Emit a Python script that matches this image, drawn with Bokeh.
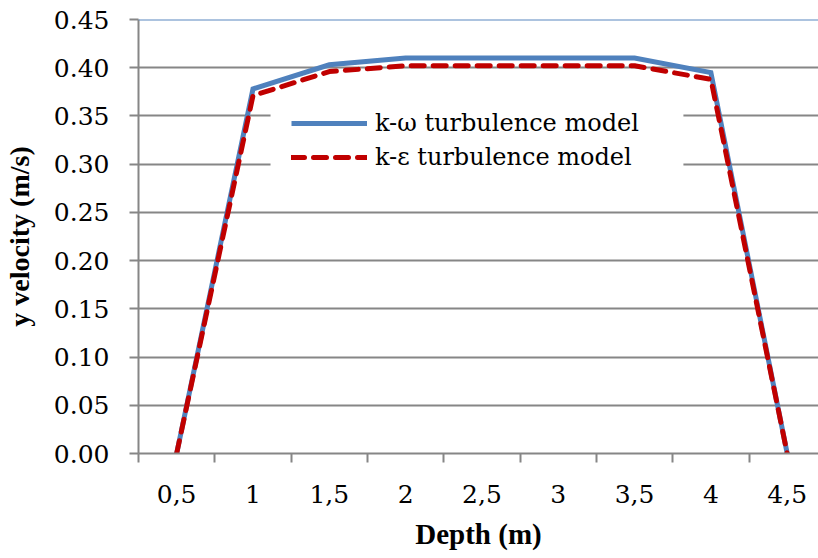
from bokeh.plotting import figure
from bokeh.models import FixedTicker, Span, Legend, LegendItem, Range1d, BoxAnnotation
from bokeh.embed import file_html
from bokeh.resources import INLINE

# Depth categories and velocity profiles for the two turbulence models
depth_labels = ["0,5", "1", "1,5", "2", "2,5", "3", "3,5", "4", "4,5"]
k_omega = [0.0, 0.378, 0.403, 0.410, 0.410, 0.410, 0.410, 0.395, 0.0]
k_epsilon = [0.0, 0.371, 0.396, 0.402, 0.402, 0.402, 0.402, 0.388, 0.0]
y_ticks = [0.00, 0.05, 0.10, 0.15, 0.20, 0.25, 0.30, 0.35, 0.40, 0.45]
y_tick_labels = ["0.00", "0.05", "0.10", "0.15", "0.20", "0.25", "0.30", "0.35", "0.40", "0.45"]

TITLE_FONT = "Liberation Serif"
TEXT_FONT = "DejaVu Serif"
GRID = "#868686"

# category centres sit half-way between the category boundaries
centers = [i + 0.5 for i in range(len(depth_labels))]
boundaries = list(range(len(depth_labels) + 1))

p = figure(width=818, height=558, output_backend="svg", toolbar_location=None,
           x_range=Range1d(0, 8.91), y_range=Range1d(0, 0.45),
           min_border_left=132, min_border_right=0, min_border_top=19,
           min_border_bottom=105)
p.outline_line_color = None

# x axis: labels at centres, tick marks at category boundaries
p.xaxis.ticker = FixedTicker(ticks=centers, minor_ticks=boundaries)
p.xaxis.major_label_overrides = {c: lab for c, lab in zip(centers, depth_labels)}
p.xaxis.major_tick_line_color = None
p.xaxis.minor_tick_line_color = GRID
p.xaxis.minor_tick_line_width = 2
p.xaxis.minor_tick_out = 9
p.xaxis.minor_tick_in = 0
p.xaxis.axis_line_color = GRID
p.xaxis.axis_line_width = 2
p.xaxis.major_label_standoff = 22
p.xaxis.major_label_text_font = TEXT_FONT
p.xaxis.major_label_text_font_size = "25px"
p.xaxis.major_label_text_color = "black"
p.xaxis.axis_label = "Depth (m)"
p.xaxis.axis_label_text_font = TITLE_FONT
p.xaxis.axis_label_text_font_size = "29px"
p.xaxis.axis_label_text_font_style = "bold"
p.xaxis.axis_label_text_color = "black"
p.xaxis.axis_label_standoff = 12
p.xgrid.grid_line_color = None

# y axis
p.yaxis.ticker = FixedTicker(ticks=y_ticks)
p.yaxis.major_label_overrides = dict(zip(y_ticks, y_tick_labels))
p.yaxis.major_tick_line_color = GRID
p.yaxis.major_tick_line_width = 2
p.yaxis.major_tick_out = 9
p.yaxis.major_tick_in = 0
p.yaxis.minor_tick_line_color = None
p.yaxis.axis_line_color = GRID
p.yaxis.axis_line_width = 2
p.yaxis.major_label_standoff = 20
p.yaxis.major_label_text_font = TEXT_FONT
p.yaxis.major_label_text_font_size = "25px"
p.yaxis.major_label_text_color = "black"
p.yaxis.axis_label = "y velocity (m/s)"
p.yaxis.axis_label_text_font = TITLE_FONT
p.yaxis.axis_label_text_font_size = "28px"
p.yaxis.axis_label_text_font_style = "bold"
p.yaxis.axis_label_text_color = "black"
p.yaxis.axis_label_standoff = 16
p.ygrid.ticker = FixedTicker(ticks=y_ticks[:-1])
p.ygrid.grid_line_color = GRID
p.ygrid.grid_line_width = 2

# top border line of the plot area
p.add_layout(Span(location=0.45, dimension="width", line_color="#5b87c0", line_width=2))

# white panel behind the legend that hides the gridlines there
p.add_layout(BoxAnnotation(left=1.73, right=7.14, bottom=0.284, top=0.366,
                           fill_color="white", fill_alpha=1.0, line_color=None,
                           level="underlay"))

r1 = p.line(centers, k_omega, line_color="#4f81bd", line_width=5, line_join="miter")
r2 = p.line(centers, k_epsilon, line_color="#c00000", line_width=5,
            line_dash="13 9", line_cap="round", line_join="round")

legend = Legend(items=[LegendItem(label="k-ω turbulence model", renderers=[r1]),
                       LegendItem(label="k-ε turbulence model", renderers=[r2])],
                location=(153, 282))
legend.label_text_font = TEXT_FONT
legend.label_text_font_size = "24px"
legend.label_text_color = "black"
legend.glyph_width = 76
legend.glyph_height = 26
legend.spacing = 6
legend.padding = 12
legend.label_standoff = 8
legend.border_line_color = None
legend.background_fill_color = "white"
legend.background_fill_alpha = 1.0
p.add_layout(legend, "center")

open("out.html", "w").write(file_html(p, INLINE))
